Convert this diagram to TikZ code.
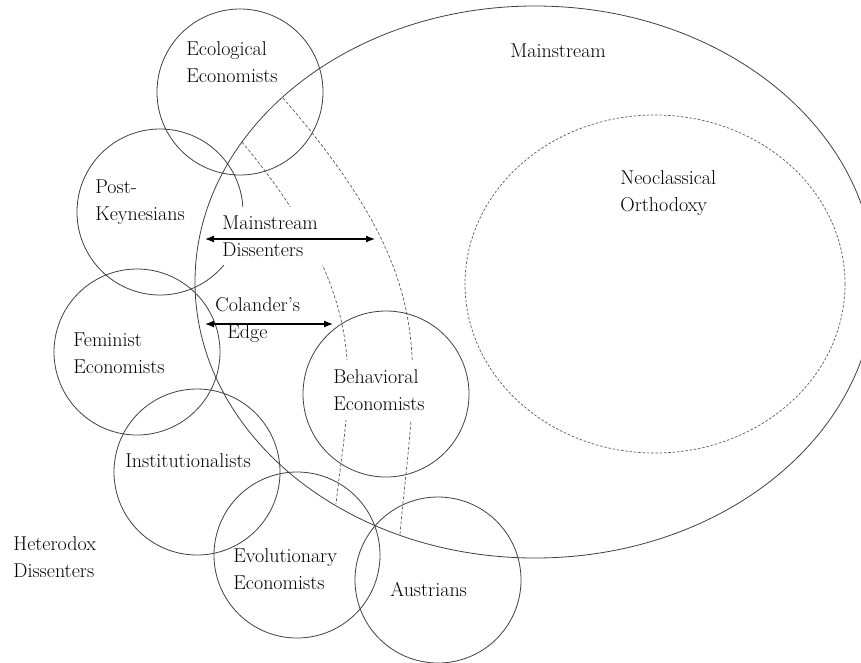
\documentclass[tikz,border=0pt]{standalone}
\usepackage{tikz}
\usetikzlibrary{shapes.geometric,arrows.meta}

\begin{document}
\begin{tikzpicture}[x = 1pt, y = -1pt, line width = 0.8pt,
                        camp/.style = {circle, draw = black!75, minimum size = 166pt, inner sep = 0pt},
                        field/.style = {ellipse, draw = black!75, inner sep = 0pt},
                        border/.style = {draw = black!65, line width = 0.7pt, dash pattern = on 3pt off 2pt},
                        word/.style = {font = \fontsize{20}{27}\selectfont, align = left, anchor = west, inner sep = 1pt},
                        cover/.style = {word, fill = white, inner xsep = 6pt, inner ysep = 9pt},
                        span/.style = {{Latex[length = 9pt, width = 7pt]}-{Latex[length = 9pt, width = 7pt]}, line width = 1.2pt}]
      \useasboundingbox (0, 0) rectangle (861, 662);
      \node [field, minimum width = 680pt, minimum height = 552pt] (main) at (535, 282){};
      \node [field, border, dash pattern = on 2.5pt off 1.8pt, minimum width = 380pt, minimum height = 338pt] (neo) at (655, 284){};
      \node [camp] (eco) at (240, 92){};
      \node [camp] (post) at (160, 212){};
      \node [camp] (fem) at (137, 352){};
      \node [camp] (inst) at (197, 472){};
      \node [camp] (evol) at (297, 555){};
      \node [camp] (aus) at (438, 580){};
      \node [camp] (behav) at (386, 394){};
      % edges of the two dissenter bands
      \coordinate (inner top) at (242, 142);
      \coordinate (inner bot) at (336, 504);
      \coordinate (outer top) at (283, 98);
      \coordinate (outer bot) at (400, 534);
      \draw [border] (inner top) .. controls (378, 306) and (349, 386) .. (inner bot);
      \draw [border] (outer top) .. controls (444, 284) and (416, 358) .. (outer bot);
      \node [cover] (dissent) at (216, 236){Mainstream\\Dissenters};
      \node [cover] (behavtext) at (327, 390){Behavioral\\Economists};
      \node [word] (ecotext) at (185, 62){Ecological\\Economists};
      \node [word] (maintext) at (509, 51){Mainstream};
      \node [word] (neotext) at (619, 193){Neoclassical\\Orthodoxy};
      \node [word] (posttext) at (94, 202){Post-\\Keynesians};
      \node [word] (colander) at (214, 320){Colander's\\\hspace*{12pt}Edge};
      \node [word] (femtext) at (72, 353){Feminist\\Economists};
      \node [word] (insttext) at (124, 461){Institutionalists};
      \node [word] (hetero) at (12, 557){Heterodox\\Dissenters};
      \node [word] (evoltext) at (232, 569){Evolutionary\\Economists};
      \node [word] (austext) at (389, 589){Austrians};
      \coordinate (md left) at (205, 239);
      \coordinate (md right) at (375, 239);
      \coordinate (ce left) at (205, 324);
      \coordinate (ce right) at (333, 324);
      \draw [span] (md left) -- (md right);
      \draw [span] (ce left) -- (ce right);
    \end{tikzpicture}
\end{document}
